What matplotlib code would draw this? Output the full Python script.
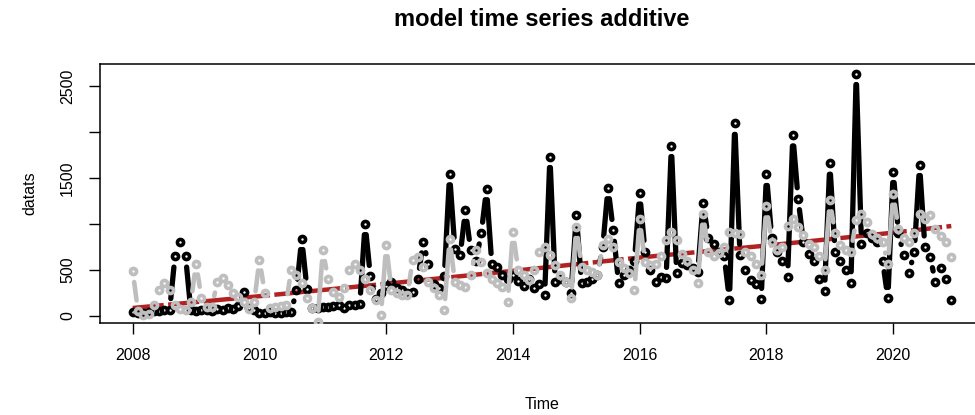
import numpy as np
import matplotlib
matplotlib.use('Agg')
import matplotlib.pyplot as plt
from matplotlib.collections import LineCollection

plt.rcParams['font.family'] = ['Liberation Sans', 'DejaVu Sans']

# monthly observed series (black), Jan 2008 - Dec 2020
b2008 = [40, 35, 30, 45, 50, 55, 60, 70, 650, 800, 650, 60]
b2009 = [50, 60, 70, 55, 80, 70, 90, 75, 110, 263, 90, 70]
b2010 = [30, 28, 40, 35, 30, 45, 40, 280, 841, 290, 83, 90]
b2011 = [100, 95, 110, 120, 90, 119, 115, 130, 1003, 430, 180, 250]
b2012 = [330, 371, 300, 280, 246, 263, 400, 804, 560, 350, 300, 430]
b2013 = [1544, 733, 660, 1147, 714, 600, 900, 1382, 560, 534, 450, 400]
b2014 = [450, 380, 330, 400, 300, 350, 227, 1732, 371, 400, 371, 250]
b2015 = [1093, 354, 371, 400, 450, 750, 1393, 930, 354, 450, 500, 600]
b2016 = [1335, 700, 500, 371, 420, 408, 1851, 462, 573, 550, 516, 480]
b2017 = [1226, 850, 786, 700, 650, 173, 2092, 660, 498, 390, 350, 180]
b2018 = [1537, 850, 700, 600, 426, 1966, 1274, 800, 678, 600, 400, 270]
b2019 = [1659, 700, 600, 500, 361, 2633, 786, 900, 850, 800, 600, 191]
b2020 = [1569, 900, 660, 462, 700, 1645, 750, 642, 371, 516, 400, 173]

# fitted additive model (grey)
g2008 = [487, 50, 10, 20, 120, 281, 354, 281, 120, 80, 60, 150]
g2009 = [570, 200, 100, 100, 371, 408, 335, 250, 209, 150, 80, 150]
g2010 = [613, 250, 90, 100, 110, 119, 498, 444, 354, 200, 83, -62]
g2011 = [714, 400, 263, 209, 300, 498, 570, 498, 400, 281, 173, 11]
g2012 = [768, 281, 246, 230, 227, 606, 642, 534, 371, 300, 227, 65]
g2013 = [841, 371, 335, 318, 450, 714, 588, 462, 400, 360, 318, 155]
g2014 = [912, 498, 450, 390, 500, 696, 750, 660, 552, 450, 368, 191]
g2015 = [966, 534, 500, 480, 444, 768, 841, 750, 588, 520, 462, 281]
g2016 = [1050, 588, 552, 560, 650, 823, 912, 823, 678, 600, 500, 354]
g2017 = [1111, 700, 650, 685, 750, 912, 900, 895, 700, 650, 570, 450]
g2018 = [1190, 800, 720, 750, 974, 1057, 966, 880, 780, 750, 650, 498]
g2019 = [1255, 900, 770, 720, 700, 1046, 1111, 1020, 895, 850, 804, 563]
g2020 = [1328, 950, 850, 800, 900, 1111, 1050, 1093, 949, 870, 804, 642]

# trend (red dashed)
trend_t = [2008, 2010, 2012, 2014, 2016, 2018, 2020, 2020.917]
trend_v = [87, 215, 350, 490, 635, 765, 905, 977]

obs = np.array(b2008 + b2009 + b2010 + b2011 + b2012 + b2013 + b2014
               + b2015 + b2016 + b2017 + b2018 + b2019 + b2020, dtype=float)
fit = np.array(g2008 + g2009 + g2010 + g2011 + g2012 + g2013 + g2014
               + g2015 + g2016 + g2017 + g2018 + g2019 + g2020, dtype=float)
t = 2008 + np.arange(len(obs)) / 12

fig = plt.figure(figsize=(9.75, 4.15), dpi=100)
ax = fig.add_axes([100/975, 1 - 323/415, 884/975, 259/415])
r = t[-1] - t[0]
ax.set_xlim(t[0] - 0.04*r, t[-1] + 0.04*r)
ry = obs.max() - obs.min()
ax.set_ylim(obs.min() - 0.04*ry, obs.max() + 0.04*ry)


def type_b(x, y, color, lw, gap=11, z=2):
    # R style type="b": lines stop short of every point
    tr = ax.transData
    pts = tr.transform(np.column_stack([x, y]))
    segs = []
    for a, b in zip(pts[:-1], pts[1:]):
        d = b - a
        L = np.hypot(d[0], d[1])
        if L > 2*gap:
            u = d / L
            segs.append(tr.inverted().transform(np.array([a + u*gap, b - u*gap])))
    ax.add_collection(LineCollection(segs, colors=color, linewidths=lw,
                                     capstyle='round', zorder=z))
    ax.plot(x, y, ls='none', marker='o', ms=4.4, mfc='none', mec=color,
            mew=2.6, zorder=z)


ax.plot(trend_t, trend_v, color='#B22222', lw=3.2, dashes=(7, 1), zorder=1.5)
type_b(t, obs, 'black', 3.8, z=2)
type_b(t, fit, '#BEBEBE', 3.3, z=3)

ax.set_xticks(range(2008, 2021, 2))
ax.set_yticks([0, 500, 1000, 1500, 2000, 2500])
ax.set_yticklabels(['0', '500', '', '1500', '', '2500'], rotation=90, va='center')
ax.tick_params(direction='out', length=8, width=1, labelsize=11.5, pad=10)
for s in ax.spines.values():
    s.set_linewidth(1.1)

fig.text(0.5557, 1 - 20/415, 'model time series additive', ha='center',
         va='center', fontsize=17, fontweight='bold')
fig.text(0.5557, 1 - 404/415, 'Time', ha='center', va='center', fontsize=11.5)
fig.text(30/975, 1 - 193/415, 'datats', ha='center', va='center',
         rotation=90, fontsize=11.5)

fig.savefig('out.png', dpi=100)
